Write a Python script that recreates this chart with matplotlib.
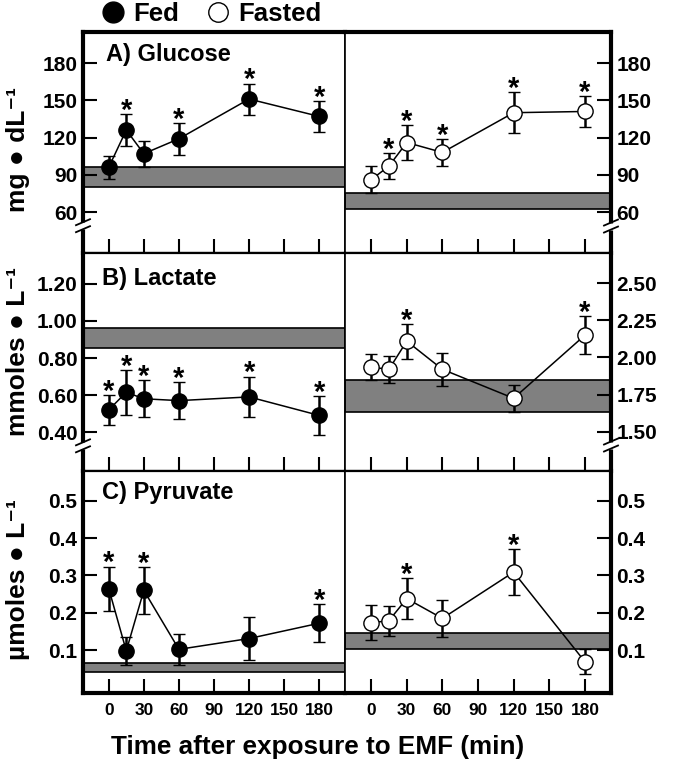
import matplotlib
matplotlib.use('Agg')
import matplotlib.pyplot as plt
from matplotlib.lines import Line2D

plt.rcParams['font.family'] = ['Liberation Sans', 'DejaVu Sans']
plt.rcParams['font.weight'] = 'bold'

# Data
times = [0, 15, 30, 60, 120, 180]
xticks = [0, 30, 60, 90, 120, 150, 180]

glu_fed = [96, 126, 107, 119, 151, 137]
glu_fed_err = [9.5, 13, 10.5, 12.7, 12.5, 12.7]
glu_fed_sig = [0, 1, 0, 1, 1, 1]
glu_fast = [86, 97, 116, 108, 140, 141]
glu_fast_err = [11, 10.5, 13.8, 11, 16.7, 12.2]
glu_fast_sig = [0, 1, 1, 1, 1, 1]

lac_fed = [0.52, 0.615, 0.58, 0.57, 0.59, 0.49]
lac_fed_err = [0.08, 0.12, 0.10, 0.10, 0.11, 0.105]
lac_fed_sig = [1, 1, 1, 1, 1, 1]
lac_fast = [1.935, 1.92, 2.11, 1.92, 1.725, 2.15]
lac_fast_err = [0.09, 0.09, 0.118, 0.11, 0.09, 0.128]
lac_fast_sig = [0, 0, 1, 0, 0, 1]

pyr_fed = [0.265, 0.098, 0.26, 0.102, 0.131, 0.172]
pyr_fed_err = [0.059, 0.037, 0.063, 0.042, 0.057, 0.051]
pyr_fed_sig = [1, 0, 1, 0, 0, 1]
pyr_fast = [0.173, 0.179, 0.238, 0.185, 0.309, 0.069]
pyr_fast_err = [0.047, 0.04, 0.054, 0.049, 0.062, 0.034]
pyr_fast_sig = [0, 0, 1, 0, 1, 0]

# baseline (control) ranges
glu_fed_band = (80, 96)
glu_fast_band = (62.3, 75)
lac_fed_band = (0.856, 0.961)
lac_fast_band = (1.633, 1.851)
pyr_fed_band = (0.042, 0.066)
pyr_fast_band = (0.102, 0.145)

W, H = 685, 765
fig = plt.figure(figsize=(W / 100, H / 100), dpi=100)

cols = [(83, 345), (345, 611)]
rows = [(32, 253), (253, 471), (471, 693)]


def make_ax(r, c):
    x0, x1 = cols[c]
    y0, y1 = rows[r]
    return fig.add_axes([x0 / W, (H - y1) / H, (x1 - x0) / W, (y1 - y0) / H])


def add_break(ax, yval, side):
    lo, hi = ax.get_ylim()
    yf = (yval - lo) / (hi - lo)
    bb = ax.get_position()
    wpx, hpx = bb.width * W, bb.height * H
    x = 0 if side == 'left' else 1
    dx, dy = 7 / wpx, 3 / hpx
    gap = 3.5 / hpx
    ax.plot([x, x], [yf - gap, yf + gap], color='white', lw=5,
            transform=ax.transAxes, clip_on=False, zorder=10, solid_capstyle='butt')
    for off in (-gap, gap):
        ax.plot([x - dx, x + dx], [yf + off - dy, yf + off + dy], color='black', lw=1.3,
                transform=ax.transAxes, clip_on=False, zorder=11)


def draw_panel(ax, y, err, sig, band, filled, ylim, yticks, fmt, r, c):
    ax.axhspan(band[0], band[1], facecolor='#808080', edgecolor='black', lw=1.2, zorder=1)
    ax.errorbar(times, y, yerr=err, fmt='-o', color='black', lw=1.1,
                elinewidth=1.8, capsize=4, capthick=1.8, ms=11,
                mfc='black' if filled else 'white', mec='black', mew=1.0, zorder=3)
    for t, v, e, s in zip(times, y, err, sig):
        if s:
            ax.annotate('*', (t, v + e), xytext=(0, -3.5), textcoords='offset points',
                        ha='center', va='baseline', fontsize=21, fontweight='bold')
    ax.set_xlim(-22, 202)
    ax.set_ylim(*ylim)
    ax.set_yticks(yticks)
    ax.set_yticklabels([fmt % v for v in yticks])
    ax.set_xticks(xticks)
    ax.tick_params(axis='x', direction='in', length=10, width=1.5, labelsize=12.5,
                   pad=7, labelbottom=(r == 2))
    ax.tick_params(axis='y', direction='in', length=10, width=1.5, labelsize=15, pad=4)
    if c == 1:
        ax.yaxis.tick_right()
    for name, sp in ax.spines.items():
        outer = ((name == 'left' and c == 0) or (name == 'right' and c == 1)
                 or (name == 'top' and r == 0) or (name == 'bottom' and r == 2))
        if outer:
            sp.set_linewidth(3)
        elif name in ('top', 'bottom'):
            sp.set_linewidth(1.6)
        else:
            sp.set_linewidth(1.2)


glu_ticks = [60, 90, 120, 150, 180]
lac_fed_ticks = [0.4, 0.6, 0.8, 1.0, 1.2]
lac_fast_ticks = [1.5, 1.75, 2.0, 2.25, 2.5]
pyr_ticks = [0.1, 0.2, 0.3, 0.4, 0.5]

ax = make_ax(0, 0)
draw_panel(ax, glu_fed, glu_fed_err, glu_fed_sig, glu_fed_band, True, (27, 205), glu_ticks, '%d', 0, 0)
ax.text(23 / 262, 1 - 23 / 221, 'A) Glucose', transform=ax.transAxes, fontsize=17, va='center')
add_break(ax, 49, 'left')

ax = make_ax(0, 1)
draw_panel(ax, glu_fast, glu_fast_err, glu_fast_sig, glu_fast_band, False, (27, 205), glu_ticks, '%d', 0, 1)
add_break(ax, 48.7, 'right')

ax = make_ax(1, 0)
draw_panel(ax, lac_fed, lac_fed_err, lac_fed_sig, lac_fed_band, True, (0.19, 1.367), lac_fed_ticks, '%.2f', 1, 0)
ax.text(19 / 262, 1 - 25 / 218, 'B) Lactate', transform=ax.transAxes, fontsize=17, va='center')
add_break(ax, 0.326, 'left')

ax = make_ax(1, 1)
draw_panel(ax, lac_fast, lac_fast_err, lac_fast_sig, lac_fast_band, False, (1.235, 2.704), lac_fast_ticks, '%.2f', 1, 1)
add_break(ax, 1.41, 'right')

ax = make_ax(2, 0)
draw_panel(ax, pyr_fed, pyr_fed_err, pyr_fed_sig, pyr_fed_band, True, (-0.015, 0.58), pyr_ticks, '%.1f', 2, 0)
ax.text(19 / 262, 1 - 21 / 222, 'C) Pyruvate', transform=ax.transAxes, fontsize=17, va='center')

ax = make_ax(2, 1)
draw_panel(ax, pyr_fast, pyr_fast_err, pyr_fast_sig, pyr_fast_band, False, (-0.015, 0.58), pyr_ticks, '%.1f', 2, 1)

# y labels
fig.text(18 / W, 1 - 150 / H, 'mg \u25cf dL\u207b\u00b9', rotation=90, ha='center', va='center', fontsize=19)
fig.text(18 / W, 1 - 352 / H, 'mmoles \u25cf L\u207b\u00b9', rotation=90, ha='center', va='center', fontsize=19)
fig.text(18 / W, 1 - 580 / H, '\u00b5moles \u25cf L\u207b\u00b9', rotation=90, ha='center', va='center', fontsize=19)

# x label
fig.text(318 / W, 1 - 747 / H, 'Time after exposure to EMF (min)', ha='center', va='center', fontsize=18.8)

# legend
handles = [Line2D([], [], ls='none', marker='o', ms=15, mfc='black', mec='black', mew=1),
           Line2D([], [], ls='none', marker='o', ms=14, mfc='white', mec='black', mew=1)]
fig.legend(handles, ['Fed', 'Fasted'], loc='center left', bbox_to_anchor=(100 / W, 1 - 14 / H),
           ncol=2, frameon=False, fontsize=18.5, handletextpad=0.3, columnspacing=1.0,
           handlelength=1.0, borderaxespad=0, borderpad=0)

plt.savefig('out.png', dpi=100)
